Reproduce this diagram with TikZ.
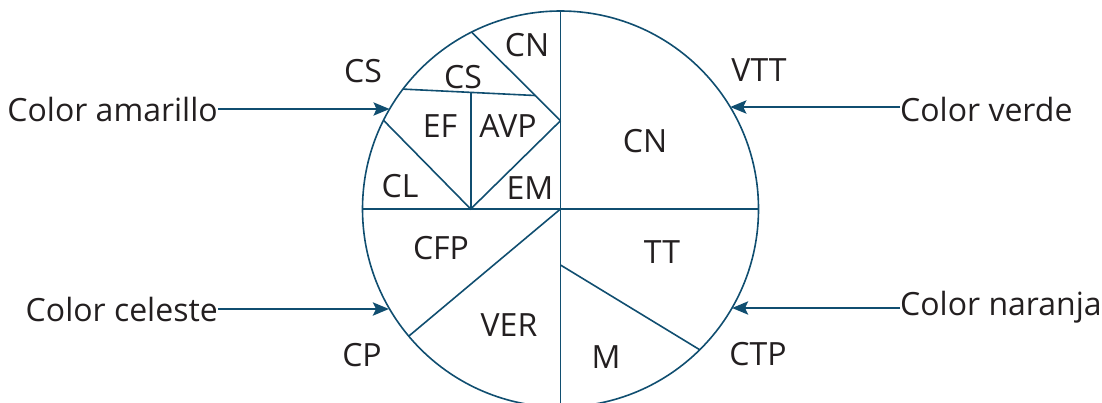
\documentclass[tikz,border=0pt]{standalone}
\usepackage{fontspec}
\setmainfont{Open Sans}
\usetikzlibrary{arrows.meta}
\definecolor{ln}{RGB}{16,78,112}
\definecolor{tx}{RGB}{35,31,32}
\begin{document}
\begin{tikzpicture}[x=1pt,y=-1pt,
  lbl/.style={text=tx,font=\fontsize{32}{37}\selectfont,inner sep=0pt,anchor=base},
  seg/.style={draw=ln,line width=1.6pt},
  arr/.style={draw=ln,line width=2.8pt,-{Stealth[length=16pt,width=13pt,inset=3pt]}}]
\useasboundingbox (0,0) rectangle (1102,402);
\clip (0,0) rectangle (1102,402);
% geometry
\coordinate (O) at (560.5,209);
\coordinate (Ptop) at (560.5,11);
\coordinate (Pbot) at (560.5,407);
\coordinate (Pl) at (362.5,209);
\coordinate (Pr) at (758.5,209);
\coordinate (A1) at (471.6,32.1);
\coordinate (A2) at (560.5,120.7);
\coordinate (B1) at (403.0,89.1);
\coordinate (B2) at (535.0,95.5);
\coordinate (C1) at (470.7,92.8);
\coordinate (C2) at (470.7,209);
\coordinate (D1) at (383.5,120.3);
\coordinate (F1) at (408.7,336.2);
\coordinate (G1) at (560.5,265);
\coordinate (G2) at (699.8,349.8);
\draw[seg] (O) circle[radius=198];
\draw[seg] (Ptop) -- (Pbot);
\draw[seg] (Pl) -- (Pr);
\draw[seg] (A1) -- (A2);
\draw[seg] (B1) -- (B2);
\draw[seg] (C1) -- (C2);
\draw[seg] (D1) -- (C2) -- (A2);
\draw[seg] (O) -- (F1);
\draw[seg] (G1) -- (G2);
% inner labels
\node[lbl] (cn1) at (527,56) {CN};
\node[lbl] (cs1) at (463,88) {CS};
\node[lbl] (ef) at (440,137) {EF};
\node[lbl] (avp) at (508,137) {AVP};
\node[lbl] (cl) at (400,197) {CL};
\node[lbl] (em) at (530,199) {EM};
\node[lbl] (cn2) at (645,152) {CN};
\node[lbl] (tt) at (662,263) {TT};
\node[lbl] (cfp) at (441,259) {CFP};
\node[lbl] (ver) at (509,336) {VER};
\node[lbl] (m) at (606,368) {M};
% outer labels
\node[lbl] (cs2) at (363,82) {CS};
\node[lbl] (vtt) at (759,81) {VTT};
\node[lbl] (cp) at (362,366) {CP};
\node[lbl] (ctp) at (758,365) {CTP};
% arrows
\node[lbl,anchor=base east] (amar) at (218,121) {Color amarillo};
\node[lbl,anchor=base west] (verde) at (900,121) {Color verde};
\node[lbl,anchor=base east] (cele) at (218,321) {Color celeste};
\node[lbl,anchor=base west] (nara) at (900,315) {Color naranja};
\coordinate (amarT) at (389.6,109);
\coordinate (verdeT) at (730.2,107);
\coordinate (celeT) at (389.0,309);
\coordinate (naraT) at (732.0,308);
\draw[arr] (amar.east |- amarT) -- (amarT);
\draw[arr] (verde.west |- verdeT) -- (verdeT);
\draw[arr] (cele.east |- celeT) -- (celeT);
\draw[arr] (nara.west |- naraT) -- (naraT);
\end{tikzpicture}
\end{document}
